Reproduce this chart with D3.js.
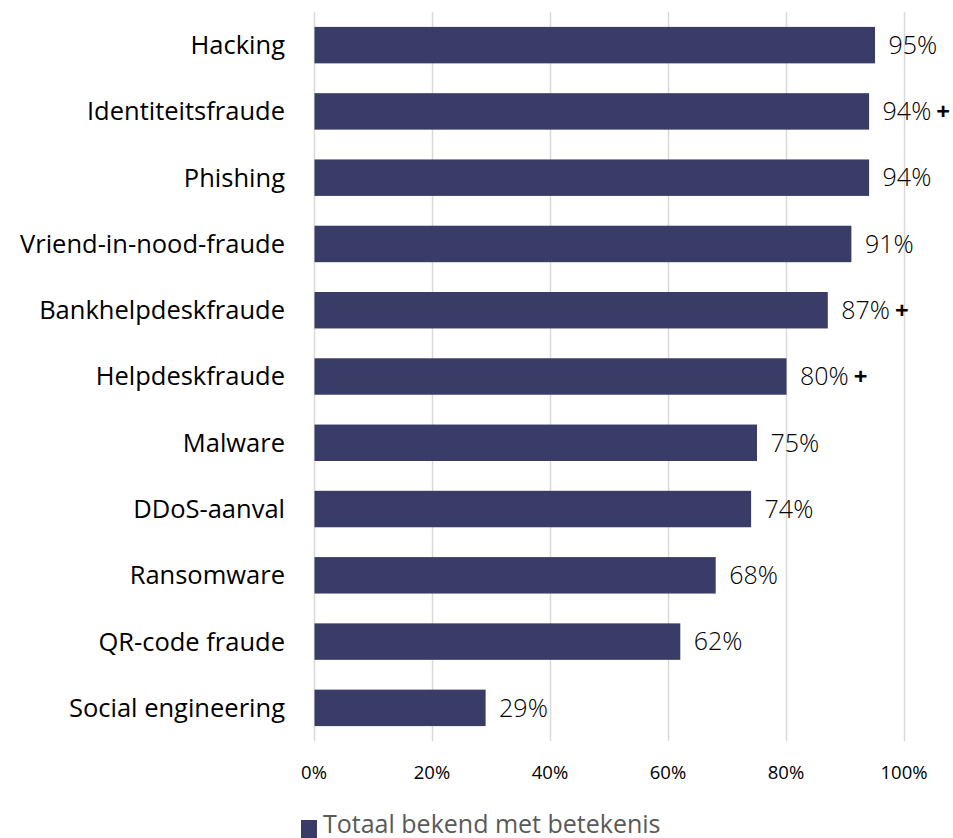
<!DOCTYPE html>
<html>
<head>
<meta charset="utf-8">
<script src="https://cdn.jsdelivr.net/npm/d3@7"></script>
<style>
  body { margin: 0; background: #fff; }
  svg { display: block; }
</style>
</head>
<body>
<div class="chart"></div>
<script>
var categories = ['Hacking', 'Identiteitsfraude', 'Phishing', 'Vriend-in-nood-fraude',
  'Bankhelpdeskfraude', 'Helpdeskfraude', 'Malware', 'DDoS-aanval', 'Ransomware',
  'QR-code fraude', 'Social engineering'];
var values = [95, 94, 94, 91, 87, 80, 75, 74, 68, 62, 29];
var plusMarks = [false, true, false, false, true, true, false, false, false, false, false];
var tickValues = [0, 20, 40, 60, 80, 100];
var legendLabel = 'Totaal bekend met betekenis';

var opts = {
  width: 953,
  height: 838,
  left: 314,
  right: 904,
  top: 12,
  bottom: 741,
  barColor: '#393c66'
}

var svg = d3.select('.chart').append('svg')
            .attr('width', opts.width)
            .attr('height', opts.height);

var x = d3.scaleLinear().domain([0, 100]).range([opts.left, opts.right]);
var y = d3.scaleBand().domain(categories).range([opts.top, opts.bottom]).paddingInner(0.45).paddingOuter(0.225);

// gridlines
svg.selectAll('line.grid')
   .data(tickValues)
   .enter()
   .append('line')
     .attr('class', 'grid')
     .attr('x1', function(d){ return x(d) + 0.5; })
     .attr('x2', function(d){ return x(d) + 0.5; })
     .attr('y1', opts.top)
     .attr('y2', opts.bottom)
     .attr('stroke', '#d9d9d9')
     .attr('stroke-width', 1.5);

// tick labels
svg.selectAll('text.tick')
   .data(tickValues)
   .enter()
   .append('text')
     .attr('class', 'tick')
     .attr('x', function(d){ return x(d); })
     .attr('y', 773)
     .attr('dy', '0.35em')
     .attr('text-anchor', 'middle')
     .style('font-family', 'Open Sans, sans-serif')
     .style('font-size', '18.5px')
     .style('fill', '#000')
     .text(function(d){ return d + '%'; });

var rows = categories.map(function(c, i){
  return { name: c, value: values[i], plus: plusMarks[i] };
});

// bars
svg.selectAll('rect.bar')
   .data(rows)
   .enter()
   .append('rect')
     .attr('class', 'bar')
     .attr('x', x(0) + 0.5)
     .attr('y', function(d){ return y(d.name); })
     .attr('width', function(d){ return x(d.value) - x(0); })
     .attr('height', y.bandwidth())
     .attr('fill', opts.barColor);

// category labels
svg.selectAll('text.cat')
   .data(rows)
   .enter()
   .append('text')
     .attr('class', 'cat')
     .attr('x', 285)
     .attr('y', function(d){ return y(d.name) + y.bandwidth() / 2; })
     .attr('dy', '0.35em')
     .attr('text-anchor', 'end')
     .style('font-family', 'Open Sans, sans-serif')
     .style('font-size', '25.5px')
     .style('fill', '#000')
     .text(function(d){ return d.name; });

// value labels
var valueLabels = svg.selectAll('text.val')
   .data(rows)
   .enter()
   .append('text')
     .attr('class', 'val')
     .attr('x', function(d){ return x(d.value) + 14; })
     .attr('y', function(d){ return y(d.name) + y.bandwidth() / 2; })
     .attr('dy', '0.35em')
     .style('font-family', 'Open Sans, sans-serif')
     .style('font-weight', 300)
     .style('font-size', '25px')
     .style('fill', '#000');

valueLabels.append('tspan').text(function(d){ return d.value + '%'; });
valueLabels.append('tspan')
   .attr('dx', 5)
   .style('font-weight', 700)
   .style('font-size', '24px')
   .text(function(d){ return d.plus ? '+' : ''; });

// legend
svg.append('rect')
   .attr('x', 301)
   .attr('y', 820)
   .attr('width', 16)
   .attr('height', 18)
   .attr('fill', opts.barColor);

svg.append('text')
   .attr('x', 323)
   .attr('y', 833)
   .style('font-family', 'Open Sans, sans-serif')
   .style('font-size', '25px')
   .style('fill', '#595959')
   .text(legendLabel);
</script>
</body>
</html>
